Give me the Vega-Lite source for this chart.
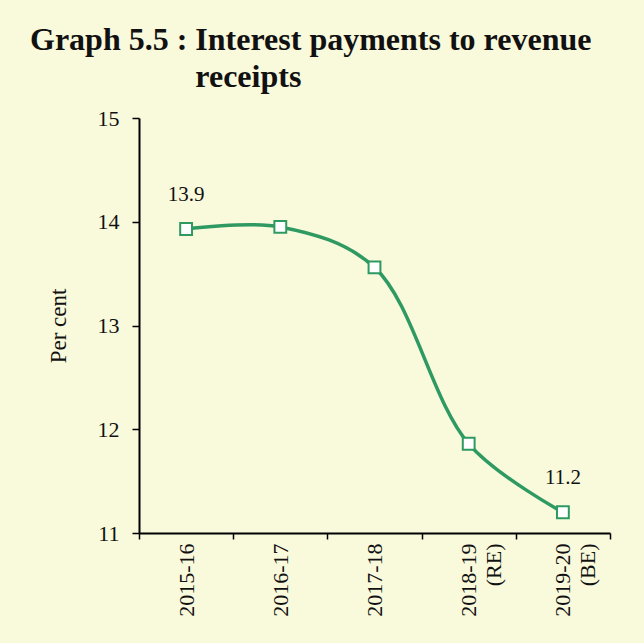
{
  "$schema": "https://vega.github.io/schema/vega-lite/v6.json",
  "width": 471,
  "height": 415,
  "padding": {"left": 30, "top": 24, "right": 36, "bottom": 26},
  "background": "#F9F9DC",
  "config": {"view": {"stroke": null}, "font": "Liberation Serif"},
  "title": {
    "text": ["Graph 5.5 : Interest payments to revenue", "\u200b\u2002\u2002\u2002\u2002\u2002\u2002\u2002\u2002\u2002\u2002\u2006receipts"],
    "anchor": "start",
    "frame": "bounds",
    "dx": -17,
    "font": "Liberation Serif",
    "fontSize": 32,
    "fontWeight": "bold",
    "color": "#111111",
    "lineHeight": 37,
    "offset": 13
  },
  "data": {
    "values": [
      {"year": "2015-16", "value": 13.93, "show": true},
      {"year": "2016-17", "value": 13.95, "show": false},
      {"year": "2017-18", "value": 13.56, "show": false},
      {"year": "2018-19 (RE)", "value": 11.86, "show": false},
      {"year": "2019-20 (BE)", "value": 11.2, "show": true}
    ]
  },
  "encoding": {
    "x": {
      "field": "year",
      "type": "nominal",
      "sort": null,
      "scale": {"paddingInner": 0, "paddingOuter": 0},
      "axis": {
        "title": null,
        "labelAngle": -90,
        "labelFont": "Liberation Serif",
        "labelFontSize": 22,
        "labelColor": "#111111",
        "labelPadding": 4,
        "labelLineHeight": 25,
        "labelExpr": "datum.value == '2018-19 (RE)' ? ['2018-19', '(RE)'] : datum.value == '2019-20 (BE)' ? ['2019-20', '(BE)'] : datum.value",
        "tickBand": "extent",
        "tickSize": 6,
        "tickColor": "#000000",
        "tickWidth": 1.5,
        "domainColor": "#000000",
        "domainWidth": 2,
        "grid": false
      }
    },
    "y": {
      "field": "value",
      "type": "quantitative",
      "scale": {"domain": [11, 15], "nice": false, "zero": false},
      "axis": {
        "title": "Per cent",
        "titleFont": "Liberation Serif",
        "titleFontSize": 23,
        "titleFontWeight": "normal",
        "titleColor": "#111111",
        "titlePadding": 27,
        "values": [11, 12, 13, 14, 15],
        "format": "d",
        "labelFont": "Liberation Serif",
        "labelFontSize": 22,
        "labelColor": "#111111",
        "labelPadding": 13,
        "tickSize": 7,
        "tickColor": "#000000",
        "tickWidth": 1.5,
        "domainColor": "#000000",
        "domainWidth": 2,
        "grid": false
      }
    }
  },
  "layer": [
    {
      "mark": {"type": "line", "color": "#2E9A62", "strokeWidth": 3.5, "interpolate": "catmull-rom"}
    },
    {
      "mark": {"type": "point", "shape": "square", "size": 140, "filled": false, "fill": "#FFFFFF", "fillOpacity": 1, "stroke": "#2E9A62", "strokeWidth": 2, "opacity": 1}
    },
    {
      "transform": [{"filter": "datum.show"}],
      "mark": {"type": "text", "font": "Liberation Serif", "fontSize": 21, "color": "#111111", "dy": -34, "baseline": "middle"},
      "encoding": {"text": {"field": "value", "type": "quantitative", "format": ".1f"}}
    }
  ]
}
